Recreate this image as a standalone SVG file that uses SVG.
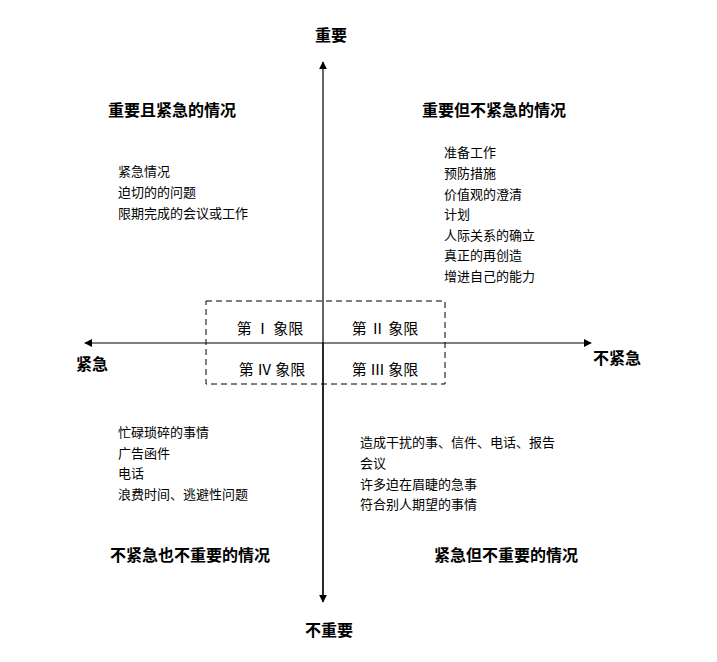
<svg xmlns="http://www.w3.org/2000/svg" width="717" height="662" viewBox="0 0 717 662">
<style>
text{font-family:"Noto Sans CJK SC","Liberation Sans",sans-serif;fill:#000}
.t{font-size:16px;font-weight:bold}
.l{font-size:13px}
.q{font-size:15px}
.ax{stroke:#000;stroke-width:1.2;fill:none}
</style>
<defs><marker id="a" viewBox="0 0 10 10" refX="9" refY="5" markerWidth="8" markerHeight="8" markerUnits="userSpaceOnUse" orient="auto"><path d="M0,0L10,5L0,10z" fill="#000"/></marker></defs>
<g id="connectors">
<line class="ax" x1="323" y1="600" x2="323" y2="62" marker-end="url(#a)"/>
<line class="ax" x1="323" y1="600" x2="323" y2="600"/>
<line class="ax" x1="323" y1="343" x2="85" y2="343" marker-end="url(#a)"/>
<line class="ax" x1="323" y1="343" x2="591" y2="343" marker-end="url(#a)"/>
<line class="ax" x1="323" y1="343" x2="323" y2="602" marker-end="url(#a)"/>
</g>
<g id="axis-labels">
<text class="t" x="331" y="41" text-anchor="middle">重要</text>
<text class="t" x="329" y="636" text-anchor="middle">不重要</text>
<text class="t" x="92" y="370" text-anchor="middle">紧急</text>
<text class="t" x="617" y="364" text-anchor="middle">不紧急</text>
</g>
<g id="quadrants">
<rect x="206" y="301" width="239" height="83" fill="none" stroke="#000" stroke-dasharray="6,4"/>
<text class="q" x="270" y="334" text-anchor="middle">第 Ⅰ 象限</text>
<text class="q" x="385" y="334" text-anchor="middle">第 Ⅱ 象限</text>
<text class="q" x="272" y="375" text-anchor="middle">第 Ⅳ 象限</text>
<text class="q" x="385" y="375" text-anchor="middle">第 Ⅲ 象限</text>
</g>
<g id="q1">
<text class="t" x="172" y="116" text-anchor="middle">重要且紧急的情况</text>
<text class="l" x="118" y="176">紧急情况</text>
<text class="l" x="118" y="197">迫切的的问题</text>
<text class="l" x="118" y="218">限期完成的会议或工作</text>
</g>
<g id="q2">
<text class="t" x="494" y="116" text-anchor="middle">重要但不紧急的情况</text>
<text class="l" x="444" y="157">准备工作</text>
<text class="l" x="444" y="178">预防措施</text>
<text class="l" x="444" y="199">价值观的澄清</text>
<text class="l" x="444" y="219">计划</text>
<text class="l" x="444" y="240">人际关系的确立</text>
<text class="l" x="444" y="260">真正的再创造</text>
<text class="l" x="444" y="281">增进自己的能力</text>
</g>
<g id="q4">
<text class="l" x="118" y="437">忙碌琐碎的事情</text>
<text class="l" x="118" y="458">广告函件</text>
<text class="l" x="118" y="478">电话</text>
<text class="l" x="118" y="499">浪费时间、逃避性问题</text>
<text class="t" x="190" y="561" text-anchor="middle">不紧急也不重要的情况</text>
</g>
<g id="q3">
<text class="l" x="360" y="447">造成干扰的事、信件、电话、报告</text>
<text class="l" x="360" y="468">会议</text>
<text class="l" x="360" y="489">许多迫在眉睫的急事</text>
<text class="l" x="360" y="509">符合别人期望的事情</text>
<text class="t" x="506" y="561" text-anchor="middle">紧急但不重要的情况</text>
</g>
</svg>
